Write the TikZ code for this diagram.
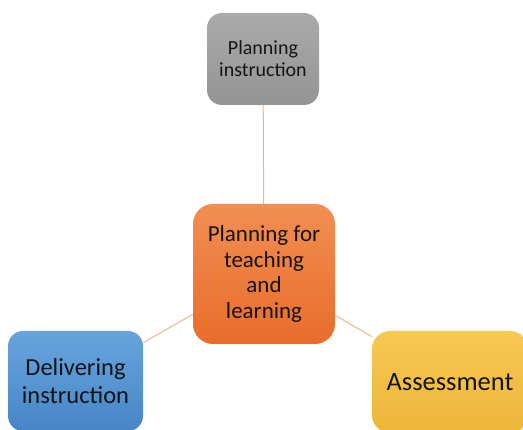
\documentclass[tikz,border=0pt]{standalone}
\usepackage{fontspec}
\setmainfont{Carlito}
\definecolor{linkc}{HTML}{F4B183}
\definecolor{grayT}{HTML}{AAAAAA}
\definecolor{grayB}{HTML}{949494}
\definecolor{oraT}{HTML}{F28E52}
\definecolor{oraB}{HTML}{E86D2B}
\definecolor{bluT}{HTML}{67A4DE}
\definecolor{bluB}{HTML}{4785C7}
\definecolor{yelT}{HTML}{F7C852}
\definecolor{yelB}{HTML}{EDB63A}
\definecolor{txt}{HTML}{141414}
\tikzset{
  box/.style={rectangle, inner sep=0pt, align=center, text=txt},
  link/.style={draw=linkc, line width=1pt},
}
\begin{document}
\begin{tikzpicture}[x=1pt,y=-1pt]
\useasboundingbox (0,0) rectangle (523,430);
\node[box, rounded corners=15pt, minimum width=112pt, minimum height=92pt,
      top color=grayT, bottom color=grayB,
      font=\fontsize{20}{22}\selectfont] (plan) at (263,59) {Planning\\instruction};
\node[box, rounded corners=20pt, minimum width=142pt, minimum height=140pt,
      top color=oraT, bottom color=oraB,
      font=\fontsize{23}{25.5}\selectfont] (core) at (264,274) {Planning for\\teaching\\and\\learning};
\node[box, rounded corners=15pt, minimum width=135pt, minimum height=100pt,
      top color=bluT, bottom color=bluB,
      font=\fontsize{24.5}{27.5}\selectfont] (deliv) at (75.5,381) {Delivering\\instruction};
\node[box, rounded corners=18pt, minimum width=156pt, minimum height=102pt,
      top color=yelT, bottom color=yelB,
      font=\fontsize{26.5}{29}\selectfont] (assess) at (450,382) {Assessment};
\draw[link] (plan) -- (core);
\draw[link] (core) -- (deliv);
\draw[link] (core) -- (assess);
\end{tikzpicture}
\end{document}
